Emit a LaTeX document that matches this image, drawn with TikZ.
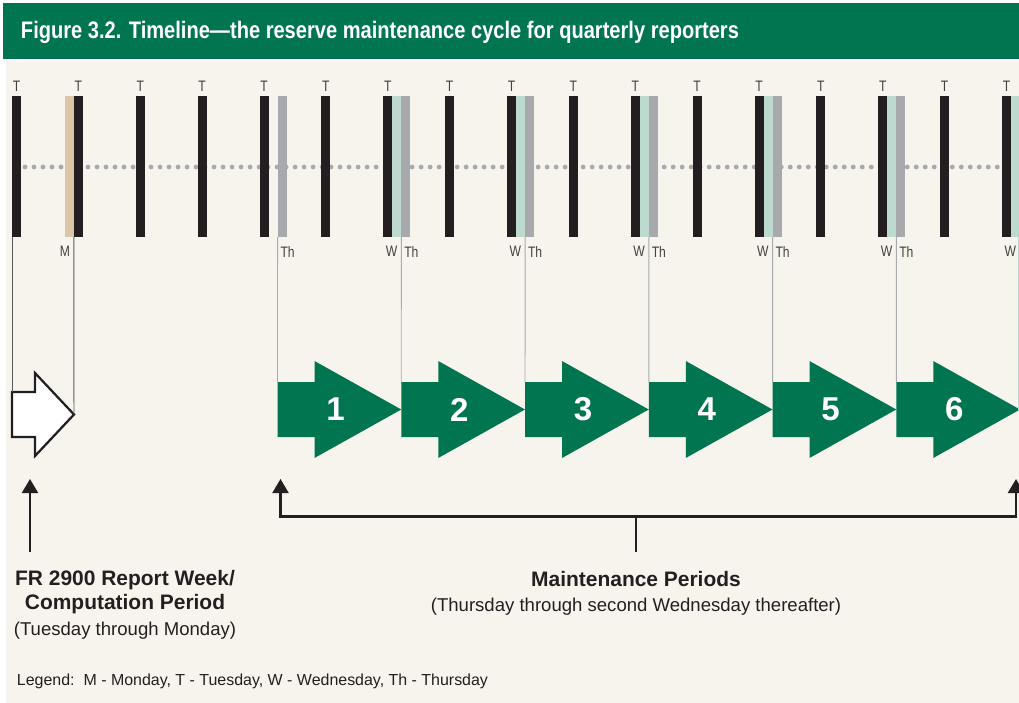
\documentclass[tikz,border=0pt]{standalone}
\usepackage{fontspec}
\setmainfont{Liberation Sans}
\newfontfamily\titlefont[FakeStretch=0.84]{Liberation Sans}
\newfontfamily\daysfont[FakeStretch=0.8]{Liberation Sans}
\usepackage{tikz}
\usetikzlibrary{calc,positioning,arrows.meta}

\definecolor{fedgreen}{HTML}{00754F}
\definecolor{paper}{HTML}{F7F4EE}
\definecolor{barblack}{HTML}{231F20}
\definecolor{bargrey}{HTML}{A7A9AC}
\definecolor{barmint}{HTML}{BDDACE}
\definecolor{bartan}{HTML}{DAC6A6}
\definecolor{tickdark}{HTML}{58595B}

\begin{document}
\begin{tikzpicture}[
    x=0.025cm, y=-0.025cm,
    every node/.style={inner sep=0pt, outer sep=0pt},
    >={Triangle[width=0.4cm, length=0.35cm]},
    bar/.style={rectangle, fill=#1, anchor=north west,
                minimum width=0.225cm, minimum height=3.525cm},
    daylbl/.style={font=\daysfont\fontsize{10.8}{12}\selectfont, text=barblack!85},
    numlbl/.style={font=\fontsize{23.5}{25}\selectfont\bfseries, text=white},
    headtxt/.style={font=\fontsize{14.9}{16.4}\selectfont\bfseries, text=barblack},
    subtxt/.style={font=\fontsize{13.2}{15}\selectfont, text=barblack},
    keytxt/.style={font=\fontsize{11.35}{13}\selectfont, text=barblack},
    rule/.style={draw=#1, line width=0.7pt},
    ptr/.style={draw=barblack, line width=1.5pt},
    dotrow/.style={draw=bargrey, line width=3.4pt, line cap=round,
                   dash pattern=on 0pt off 0.225cm}
]
% page, header band and paper
\fill[white] (0,0) rectangle (1019,703);
\useasboundingbox (0,0) rectangle (1019,703);
\fill[fedgreen] (3,3) rectangle (1019,59);
\fill[paper] (6,61) rectangle (1019,703);
\node[font=\titlefont\fontsize{17}{19}\selectfont\bfseries, text=white,
      anchor=base west] (title) at (21,39)
  {Figure 3.2. Timeline—the reserve maintenance cycle for quarterly reporters};

% dotted time axis, behind the days
\draw[dotrow] (25,167) -- (1000,167);

% one Tuesday per week
\foreach \i in {0,...,16}{
  \node[bar=barblack] (t\i) at ({12+61.875*\i},96) {};
  \node[daylbl, above=0.1cm of t\i] (tl\i) {T};
}
\node[bar=bartan, anchor=north east] (mon) at (t1.north west) {};
\node[bar=bargrey, right=0.225cm of t4] (th4) {};
\foreach \i in {6,8,...,14}{
  \node[bar=barmint, right=0pt of t\i] (w\i) {};
  \node[bar=bargrey, right=0pt of w\i] (th\i) {};
}
\node[bar=barmint, right=0pt of t16] (w16) {};

% day letters under the bars
\node[daylbl, anchor=north east] (ml) at ($(mon.south east)+(-4,9)$) {M};
\foreach \i in {4,6,...,14}
  \node[daylbl, anchor=north west] (thl\i) at ($(th\i.south west)+(3,9)$) {Th};
\foreach \i in {6,8,...,16}
  \node[daylbl, anchor=north east] (wl\i) at ($(w\i.south east)+(-4,9)$) {W};

% report week
\coordinate (rwa) at (12,392);
\coordinate (rwtip) at (74,414.5);
\draw[barblack, line width=1.6pt, fill=white]
  (rwa) -- (35,392) -- (35,373) -- (rwtip) -- (35,456) -- (35,437) -- (12,437) -- cycle;
\draw[rule=tickdark] (t0.south west) -- (rwa);
\draw[rule=tickdark] (t1.south west) -- (rwtip);

% maintenance periods
\foreach \k in {1,...,6}{
  \pgfmathtruncatemacro\i{2*\k+2}
  \pgfmathsetmacro\s{30+61.875*\i}
  \fill[fedgreen] (\s,382) -- ++(37,0) -- ++(0,-21) -- (\s+123.75,409.5)
    -- (\s+37,458) -- ++(0,-21) -- (\s,437) -- cycle;
  \coordinate (p\k) at (\s,382);
  \node[numlbl] (n\k) at (\s+58,409.5) {\k};
  \draw[rule=bargrey] (th\i.south west) -- (p\k);
}
\draw[rule=barmint] ([xshift=-0.04cm]w16.south east) -- ([xshift=-0.04cm]w16.south east |- n6);

% pointers to the captions
\coordinate (rwptr) at (30,479);
\coordinate (rwfoot) at (30,552);
\draw[ptr, ->] (rwfoot) -- (rwptr);
\coordinate (mpl) at (280.5,479);
\coordinate (mpr) at (1016,479);
\coordinate (mpmid) at (636,516.5);
\coordinate (mpfoot) at (636,552);
\draw[ptr, <->] (mpl) |- (mpmid) -| (mpr);
\draw[ptr] (mpmid) -- (mpfoot);

% captions
\node[headtxt, align=center, anchor=base] (fr) at (125,609)
  {FR 2900 Report Week/\\Computation Period};
\node[subtxt, anchor=base] (frnote) at (125,635) {(Tuesday through Monday)};
\node[headtxt, anchor=base] (mp) at (636,586) {Maintenance Periods};
\node[subtxt, anchor=base] (mpnote) at (636,611)
  {(Thursday through second Wednesday thereafter)};
\node[keytxt, anchor=base west] (key) at (17,685)
  {Legend:\ \ M - Monday, T - Tuesday, W - Wednesday, Th - Thursday};
\end{tikzpicture}
\end{document}
